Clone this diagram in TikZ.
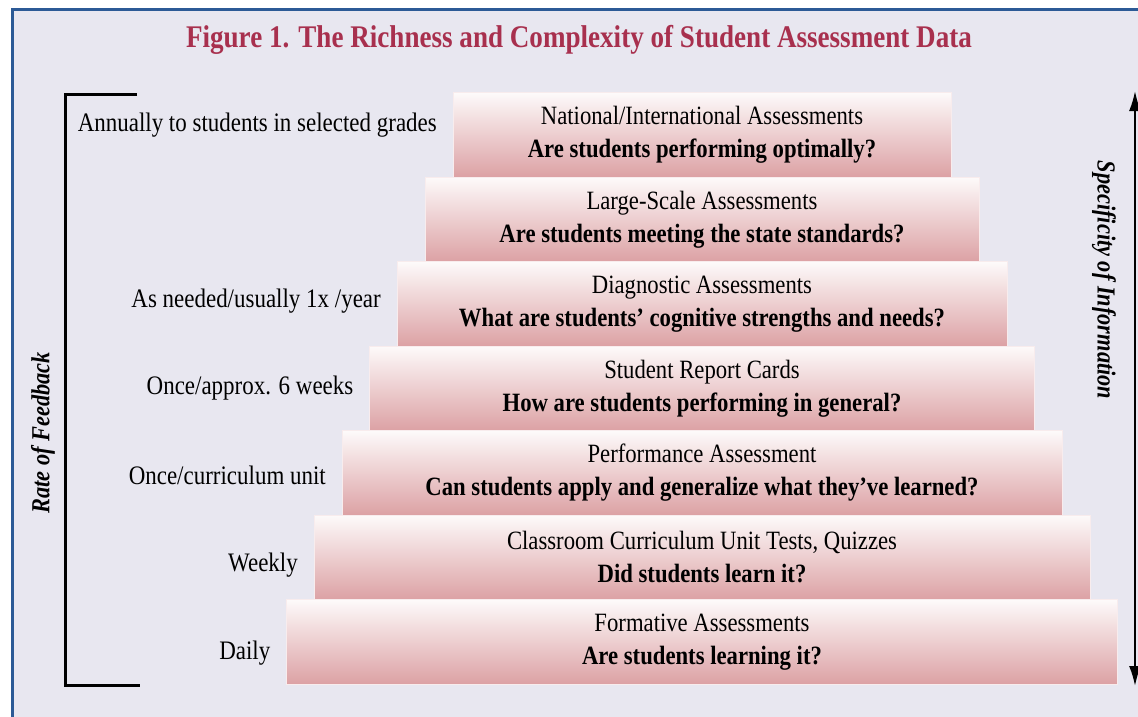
\documentclass[tikz,border=0pt]{standalone}
\usepackage{fontspec}
\setmainfont{Liberation Serif}[FakeStretch=0.86]
\usetikzlibrary{positioning,arrows.meta}

\definecolor{panel}{HTML}{E8E7F0}
\definecolor{frameblue}{HTML}{2C5A96}
\definecolor{titlered}{HTML}{A8304E}
\definecolor{barlight}{HTML}{FDFAFA}
\definecolor{bardark}{HTML}{DCA1A4}

\tikzset{
    tier/.style={minimum height=84.5pt, inner sep=0pt, outer sep=0pt, top color=barlight,
        bottom color=bardark, draw=white!80!bardark, line width=0.8pt,
        align=center, font=\fontsize{26.4}{33}\selectfont},
    rate/.style={inner sep=0pt, font=\fontsize{26.7}{30}\selectfont},
    axislabel/.style={font=\fontsize{26}{30}\selectfont\bfseries\itshape},
}

\begin{document}
\begin{tikzpicture}[x=1pt,y=-1pt]
    \useasboundingbox (0,0) rectangle (1138,717);
    \fill[white] (0,0) rectangle (1138,717);
    \fill[panel] (12,10) rectangle (1138,717);
    \draw[frameblue, line width=3pt] (12,717) -- (12,10) -- (1138,10);

    \node[text=titlered, font=\fontsize{31.5}{36}\selectfont\bfseries] (title) at (579,40)
        {Figure 1. The Richness and Complexity of Student Assessment Data};

    % the stepped tiers, narrow on top
    \node[tier, minimum width=498pt] (national) at (702,135)
        {National/International Assessments\\ \textbf{Are students performing optimally?}};
    \node[tier, minimum width=554pt, below=0pt of national] (largescale)
        {Large-Scale Assessments\\ \textbf{Are students meeting the state standards?}};
    \node[tier, minimum width=610pt, below=0pt of largescale] (diagnostic)
        {Diagnostic Assessments\\ \textbf{What are students’ cognitive strengths and needs?}};
    \node[tier, minimum width=665pt, below=0pt of diagnostic] (reportcard)
        {Student Report Cards\\ \textbf{How are students performing in general?}};
    \node[tier, minimum width=720pt, below=0pt of reportcard] (performance)
        {Performance Assessment\\ \textbf{Can students apply and generalize what they’ve learned?}};
    \node[tier, minimum width=776pt, below=0pt of performance] (classroom)
        {Classroom Curriculum Unit Tests, Quizzes\\ \textbf{Did students learn it?}};
    \node[tier, minimum width=831pt, below=0pt of classroom] (formative)
        {Formative Assessments\\ \textbf{Are students learning it?}};

    % how often each one comes back
    \node[rate, left=16pt of national.west, yshift=10pt] (annually) {Annually to students in selected grades};
    \node[rate, left=16pt of diagnostic.west, yshift=3pt] (asneeded) {As needed/usually 1x /year};
    \node[rate, left=16pt of reportcard.west] (sixweeks) {Once/approx. 6 weeks};
    \node[rate, left=16pt of performance.west, yshift=-2pt] (unit) {Once/curriculum unit};
    \node[rate, left=16pt of classroom.west, yshift=-8pt] (weekly) {Weekly};
    \node[rate, left=16pt of formative.west, yshift=-11pt] (daily) {Daily};

    % bracket and rate label
    \draw[line width=3pt] (137,94) -- (65,94) -- (65,685) -- (140,685);
    \node[axislabel, rotate=90] (feedback) at (43,433) {Rate of Feedback};

    % specificity axis
    \coordinate (spectop) at (1135,91);
    \coordinate (specbot) at (1135,686);
    \draw[{Latex[length=20pt,width=12pt]}-{Latex[length=20pt,width=12pt]}, line width=2pt] (spectop) -- (specbot);
    \node[axislabel, rotate=-90] (specificity) at (1104,280) {Specificity of Information};
\end{tikzpicture}
\end{document}
